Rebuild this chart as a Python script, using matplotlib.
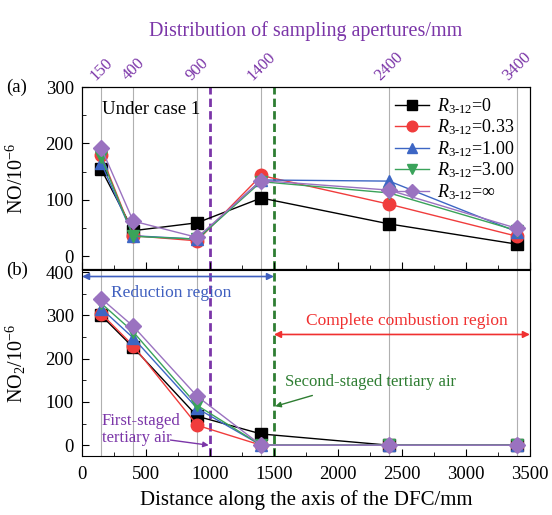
import matplotlib.pyplot as plt
from matplotlib.ticker import MultipleLocator

plt.rcParams['font.family'] = ['Liberation Serif', 'DejaVu Serif']
plt.rcParams['mathtext.fontset'] = 'custom'
plt.rcParams['mathtext.rm'] = 'Liberation Serif'
plt.rcParams['mathtext.it'] = 'Liberation Serif:italic'
plt.rcParams['xtick.direction'] = 'in'
plt.rcParams['ytick.direction'] = 'in'

# -------- data
dist = [150, 400, 900, 1400, 2400, 3400]
ratios = ['0', '0.33', '1.00', '3.00', r'$\infty$']
no_r0 = [154, 45, 59, 103, 57, 21]
no_r033 = [179, 36, 27, 143, 92, 35]
no_r1 = [165, 36, 30, 135, 133, 43]
no_r3 = [175, 35, 30, 132, 112, 45]
no_rinf = [192, 62, 33, 134, 117, 49]
no2_r0 = [300, 226, 67, 26, 0, 0]
no2_r033 = [304, 230, 46, 0, 0, 0]
no2_r1 = [316, 248, 85, 0, 0, 0]
no2_r3 = [328, 262, 92, 0, 0, 0]
no2_rinf = [339, 275, 113, 0, 0, 0]
first_air = 1000
second_air = 1500

no_sets = [no_r0, no_r033, no_r1, no_r3, no_rinf]
no2_sets = [no2_r0, no2_r033, no2_r1, no2_r3, no2_rinf]
colors = ['black', '#f03c3c', '#3d66c4', '#3aa35a', '#9a72c0']
marks = ['s', 'o', '^', 'v', 'D']
msizes = [8, 9, 9, 9, 8]
purple = '#7b35a8'
green = '#2e7d32'

fig = plt.figure(figsize=(5.52, 5.15), dpi=100)
axa = fig.add_axes([0.1486, 0.4777, 0.8114, 0.3533])
axb = fig.add_axes([0.1486, 0.1145, 0.8114, 0.3612])

for ax in (axa, axb):
    for d in dist:
        ax.axvline(d, color='#b0b0b0', lw=0.8, zorder=0)
    ax.axvline(first_air, color=purple, lw=2, ls=(0, (3, 1.5)), zorder=1)
    ax.axvline(second_air, color=green, lw=2, ls=(0, (3, 1.5)), zorder=1)
    ax.set_xlim(0, 3500)
    ax.xaxis.set_major_locator(MultipleLocator(500))
    ax.xaxis.set_minor_locator(MultipleLocator(250))
    ax.tick_params(labelsize=13.5, length=5)
    ax.tick_params(axis='x', pad=7)
    ax.tick_params(axis='y', pad=6)
    ax.tick_params(which='minor', length=3)

for i in range(5):
    lab = r'$R_{\mathrm{3\text{-}12}}$=' + ratios[i]
    axa.plot(dist, no_sets[i], color=colors[i], marker=marks[i], ms=msizes[i],
             lw=1, label=lab, zorder=3 + i)
    axb.plot(dist, no2_sets[i], color=colors[i], marker=marks[i], ms=msizes[i],
             lw=1, zorder=3 + i)

# -------- panel (a)
axa.set_ylim(-23, 300)
axa.yaxis.set_major_locator(MultipleLocator(100))
axa.yaxis.set_minor_locator(MultipleLocator(50))
axa.tick_params(labelbottom=False)
axa.set_ylabel(r'NO/10$^{-6}$', fontsize=14.5)
axa.yaxis.set_label_coords(-0.12, 0.5)
axa.text(156, 260, 'Under case 1', fontsize=13.5, va='center')
leg = axa.legend(loc='upper right', bbox_to_anchor=(0.985, 1.0), frameon=False,
                 fontsize=13, handlelength=1.9, labelspacing=0.1,
                 borderaxespad=0.1, handletextpad=0.4, markerscale=0.85)
axa.text(-0.17, 1.0, '(a)', transform=axa.transAxes, fontsize=13.5, va='center')

top = axa.twiny()
top.set_xlim(0, 3500)
top.set_xticks(dist)
top.set_xticklabels([str(d) for d in dist], rotation=45, color=purple, fontsize=12)
top.tick_params(length=0, pad=2)
top.set_xlabel('Distribution of sampling apertures/mm', color=purple,
               fontsize=14.5, labelpad=10)

# -------- panel (b)
axb.set_ylim(-25, 405)
axb.yaxis.set_major_locator(MultipleLocator(100))
axb.yaxis.set_minor_locator(MultipleLocator(50))
axb.set_ylabel(r'NO$_2$/10$^{-6}$', fontsize=14.5)
axb.yaxis.set_label_coords(-0.12, 0.5)
axb.set_xlabel('Distance along the axis of the DFC/mm', fontsize=15, labelpad=5)
axb.text(-0.17, 1.0, '(b)', transform=axb.transAxes, fontsize=13.5, va='center')

blue = '#3f5fbf'
red = '#f03030'
axb.annotate('', xy=(0, 390), xytext=(second_air, 390),
             arrowprops=dict(arrowstyle='<|-|>', color=blue, lw=1.2,
                             shrinkA=0, shrinkB=0, mutation_scale=10))
axb.text(700, 352, 'Reduction region', color=blue, fontsize=12.5,
         ha='center', va='center')
axb.annotate('', xy=(second_air, 256), xytext=(3500, 256),
             arrowprops=dict(arrowstyle='<|-|>', color=red, lw=1.2,
                             shrinkA=0, shrinkB=0, mutation_scale=10))
axb.text(2540, 286, 'Complete combustion region', color=red, fontsize=12.5,
         ha='center', va='center')
axb.text(1590, 145, 'Second-staged tertiary air', color=green, fontsize=12,
         va='center')
axb.annotate('', xy=(second_air + 10, 90), xytext=(1800, 115),
             arrowprops=dict(arrowstyle='-|>', color=green, lw=1,
                             shrinkA=0, shrinkB=0, mutation_scale=8))
axb.text(156, 37, 'First-staged\ntertiary air', color=purple, fontsize=12,
         va='center', linespacing=1.1)
axb.annotate('', xy=(first_air - 10, 0), xytext=(690, 12),
             arrowprops=dict(arrowstyle='-|>', color=purple, lw=1,
                             shrinkA=0, shrinkB=0, mutation_scale=8))

fig.savefig('out.png', dpi=100)
